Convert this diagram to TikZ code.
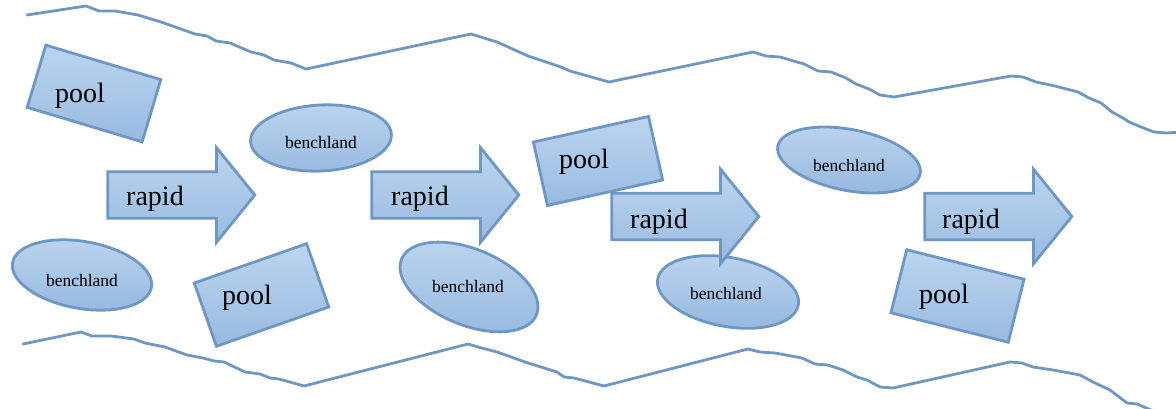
\documentclass[tikz,border=0pt]{standalone}
\usepackage{fontspec}
\setmainfont{Liberation Serif}
\usetikzlibrary{shapes,shapes.arrows,positioning}
\definecolor{edgeblue}{RGB}{110,151,196}
\definecolor{filltop}{RGB}{188,213,239}
\definecolor{fillbot}{RGB}{152,186,224}
\tikzset{
  part/.style={draw=edgeblue,line width=2.8pt,top color=filltop,bottom color=fillbot,inner sep=0pt},
  poolbox/.style={part,rectangle,minimum width=119pt,minimum height=65pt},
  benchoval/.style={part,ellipse},
  rapidarrow/.style={part,single arrow,single arrow head extend=24pt,single arrow tip angle=102,
    single arrow head indent=0pt,minimum height=147pt,inner xsep=0pt,inner ysep=21.8pt,
    text height=0pt,text depth=0pt,anchor=tail},
  bigtext/.style={font=\fontsize{28}{30}\selectfont,inner sep=0pt},
  smalltext/.style={font=\fontsize{17.5}{20}\selectfont,inner sep=0pt},
  bankline/.style={draw=edgeblue,line width=2.8pt,line join=round,line cap=round}
}
\begin{document}
\begin{tikzpicture}[x=1pt,y=-1pt]
  \useasboundingbox (0,0) rectangle (1176,409);
  \draw[bankline] (27,15) -- (86,6) -- (99,11) -- (115,11) -- (138,15) -- (161,22) -- (195,34) -- (207,36)
    -- (216,41) -- (230,43) -- (251,52) -- (264,55) -- (274,60) -- (291,63) -- (306,69) -- (471,34)
    -- (497,42) -- (528,56) -- (561,67) -- (570,71) -- (609,82) -- (753,52) -- (766,56) -- (780,57)
    -- (804,64) -- (818,71) -- (831,72) -- (846,78) -- (856,84) -- (869,89) -- (880,95) -- (894,97)
    -- (1011,76) -- (1023,77) -- (1036,82) -- (1055,86) -- (1078,92) -- (1089,98) -- (1101,103)
    -- (1112,112) -- (1123,118) -- (1129,122) -- (1141,127) -- (1154,132) -- (1167,133) -- (1182,132);
  \draw[bankline] (23,344) -- (81,332) -- (92,336) -- (111,336) -- (134,339) -- (145,343) -- (165,347)
    -- (187,355) -- (203,358) -- (214,361) -- (224,362) -- (245,372) -- (260,374) -- (270,378)
    -- (279,379) -- (304,386) -- (468,344) -- (478,347) -- (497,352) -- (528,363) -- (557,372)
    -- (564,377) -- (574,378) -- (604,386) -- (748,349) -- (760,352) -- (775,353) -- (802,358)
    -- (815,364) -- (828,365) -- (843,370) -- (857,377) -- (867,380) -- (880,387) -- (893,388)
    -- (1010,362) -- (1022,363) -- (1033,367) -- (1053,370) -- (1080,375) -- (1093,382) -- (1110,390)
    -- (1127,403) -- (1137,404) -- (1165,416);

  \begin{scope}[every node/.style={benchoval}]
    \node[minimum width=141pt,minimum height=66pt,rotate=3] (b1) at (321,138) {};
    \node[minimum width=141pt,minimum height=67pt,rotate=-10] (b2) at (82,275) {};
    \node[minimum width=146pt,minimum height=76pt,rotate=-22.5] (b3) at (469,287) {};
    \node[minimum width=143pt,minimum height=69pt,rotate=-10.5] (b4) at (728,292) {};
    \node[minimum width=145pt,minimum height=61pt,rotate=-11] (b5) at (849,160) {};
  \end{scope}
  \begin{scope}[every node/.style={poolbox}]
    \node[minimum width=120pt,rotate=-16.7] (p1) at (94,93.5) {};
    \node[minimum height=67pt,rotate=19.3] (p2) at (261.5,295) {};
    \node[minimum width=118pt,rotate=12.5] (p3) at (598,161) {};
    \node[minimum width=121pt,rotate=-14.1] (p4) at (957.5,296) {};
  \end{scope}
  \begin{scope}[every node/.style={rapidarrow}]
    \node (r1) at (106.4,195) {};
    \node (r2) at (370.4,195) {};
    \node (r3) at (610.4,216.5) {};
    \node (r4) at (923.4,216.5) {};
  \end{scope}

  \begin{scope}[every node/.style={bigtext}]
    \node (p1txt) at (80,96) {pool};
    \node (p2txt) at (247,298) {pool};
    \node (p3txt) at (584,162) {pool};
    \node (p4txt) at (944,297) {pool};
    \node (r1txt) at (155,199) {rapid};
    \node (r2txt) at (420,199) {rapid};
    \node (r3txt) at (659,222) {rapid};
    \node (r4txt) at (971,222) {rapid};
  \end{scope}
  \begin{scope}[every node/.style={smalltext}]
    \node (b1txt) at (321,143) {benchland};
    \node (b2txt) at (82,281) {benchland};
    \node (b3txt) at (468,287) {benchland};
    \node (b4txt) at (726,294) {benchland};
    \node (b5txt) at (849,166) {benchland};
  \end{scope}
\end{tikzpicture}
\end{document}
